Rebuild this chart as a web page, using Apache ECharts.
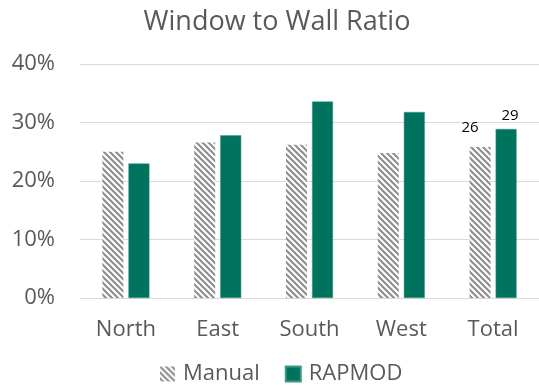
<!DOCTYPE html>
<html>
<head>
<meta charset="utf-8">
<script src="https://cdn.jsdelivr.net/npm/echarts@6/dist/echarts.min.js"></script>
<style>
  html, body { margin: 0; padding: 0; background: #fff; }
  #chart { width: 539px; height: 385px; }
</style>
</head>
<body>
<div id="chart"></div>
<script>
const categories = ['North', 'East', 'South', 'West', 'Total'];
const manualValues = [25.0, 26.6, 26.2, 24.8, 25.8];
const rapmodValues = [23.0, 27.8, 33.6, 31.8, 28.9];
const yTicks = [0, 10, 20, 30, 40];

// Diagonal hatch fill for the Manual series
function hatchPattern() {
  const c = document.createElement('canvas');
  const s = 6;
  c.width = s; c.height = s;
  const g = c.getContext('2d');
  g.fillStyle = '#ffffff';
  g.fillRect(0, 0, s, s);
  g.strokeStyle = '#8f8f8f';
  g.lineWidth = 2.2;
  g.beginPath();
  g.moveTo(-s, 0); g.lineTo(s * 2, s * 3);
  g.moveTo(-s * 2, 0); g.lineTo(s, s * 3);
  g.moveTo(0, 0); g.lineTo(s * 3, s * 3);
  g.moveTo(0, -s); g.lineTo(s * 2, s);
  g.moveTo(-s, -s); g.lineTo(s, s);
  g.stroke();
  return { image: c, repeat: 'repeat' };
}

const FONT = '"Open Sans", "Liberation Sans", sans-serif';
const hatch = hatchPattern();
const green = '#00735F';

const chart = echarts.init(document.getElementById('chart'), null, { renderer: 'canvas' });

const manualData = manualValues.map((v, i) => {
  const d = { value: v };
  if (categories[i] === 'Total') {
    d.label = { show: true, position: 'top', distance: 12, offset: [-10, 0],
      formatter: () => Math.round(v).toString() };
  }
  return d;
});
const rapmodData = rapmodValues.map((v, i) => {
  const d = { value: v };
  if (categories[i] === 'Total') {
    d.label = { show: true, position: 'top', distance: 6, offset: [4, 0],
      formatter: () => Math.round(v).toString() };
  }
  return d;
});

chart.setOption({
  animation: false,
  title: {
    text: 'Window to Wall Ratio',
    left: 272, top: 4, textAlign: 'center',
    textStyle: { fontFamily: FONT, fontSize: 27, fontWeight: 'normal', color: '#595959' }
  },
  legend: {
    bottom: -5, left: 155, itemGap: 25, itemWidth: 15, itemHeight: 15,
    textStyle: { fontFamily: FONT, fontSize: 22, color: '#595959', padding: [0, 0, 0, 3] },
    data: [
      { name: 'Manual', icon: 'rect', itemStyle: { color: hatch } },
      { name: 'RAPMOD', icon: 'rect', itemStyle: { color: green } }
    ]
  },
  grid: { left: 80, right: -5, top: 64, bottom: 87, containLabel: false },
  xAxis: {
    type: 'category', data: categories,
    axisLine: { show: true, lineStyle: { color: '#d9d9d9', width: 1 } },
    axisTick: { show: false },
    axisLabel: { fontFamily: FONT, fontSize: 22, color: '#595959', margin: 21 }
  },
  yAxis: {
    type: 'value', min: yTicks[0], max: yTicks[yTicks.length - 1], interval: 10,
    axisLine: { show: false }, axisTick: { show: false },
    splitLine: { lineStyle: { color: '#d9d9d9', width: 1 } },
    axisLabel: { fontFamily: FONT, fontSize: 22, color: '#595959', margin: 25,
      formatter: v => v + '%' }
  },
  series: [
    {
      name: 'Manual', type: 'bar', data: manualData,
      barWidth: 21, barGap: '24%',
      itemStyle: { color: hatch },
      label: { show: false, color: '#000', fontFamily: FONT, fontSize: 15 }
    },
    {
      name: 'RAPMOD', type: 'bar', data: rapmodData,
      barWidth: 21,
      itemStyle: { color: green, borderColor: '#3a9a86', borderWidth: 0.5 },
      label: { show: false, color: '#000', fontFamily: FONT, fontSize: 15 }
    }
  ]
});
</script>
</body>
</html>
